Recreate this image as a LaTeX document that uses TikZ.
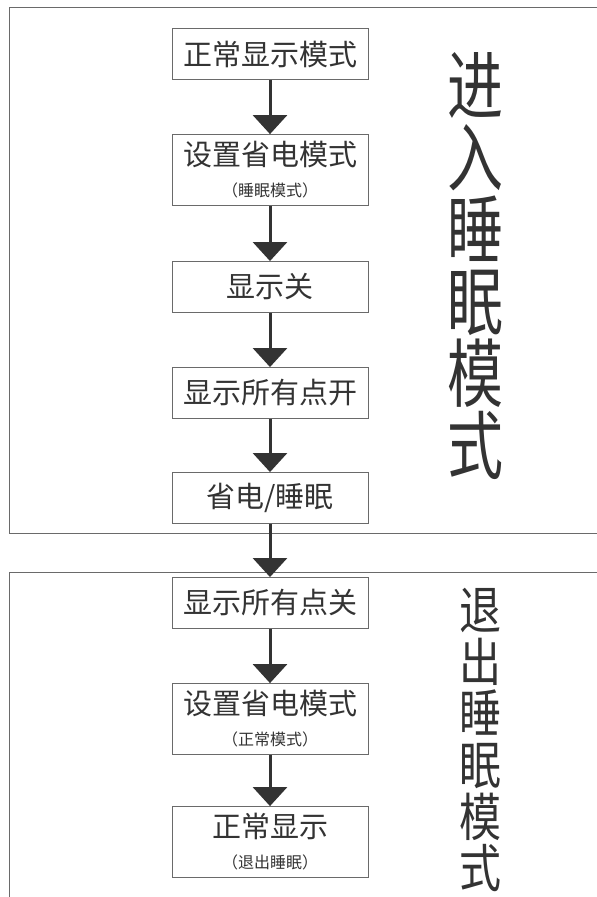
\documentclass[tikz,border=0pt]{standalone}
\usepackage{fontspec}
\setmainfont{Noto Sans CJK SC}
\usetikzlibrary{arrows.meta}
\definecolor{inkgray}{HTML}{333333}
\definecolor{framegray}{HTML}{6A6A6A}
\tikzset{
  stepbox/.style={draw=framegray, line width=0.9pt, minimum width=196pt, minimum height=51pt,
    inner xsep=0pt, inner ysep=7pt, align=center, text=inkgray, font=\fontsize{29}{31}\selectfont},
  flow/.style={draw=inkgray, line width=3pt, -{Triangle[width=34pt,length=19pt]}},
  sidetext/.style={text=inkgray, align=center, inner sep=0pt}
}
\newcommand{\subnote}[1]{{\fontsize{16}{18}\selectfont （#1）}}
\begin{document}
\begin{tikzpicture}[x=1pt,y=-1pt]
  \useasboundingbox (0,0) rectangle (597,897);
  \clip (0,0) rectangle (597,897);
  % Frames
  \draw[framegray, line width=0.9pt] (9,7) rectangle (620,533);
  \draw[framegray, line width=0.9pt] (9,905) -- (9,572) -- (620,572);
  % Entering sleep mode
  \foreach \m/\t/\y in {1/正常显示模式/54, 2/{设置省电模式\\\subnote{睡眠模式}}/170, 3/显示关/287, 4/显示所有点开/393, 5/{省电/睡眠}/498}
    \node [stepbox] (enter-\m) at (270,\y) {\t};
  % Leaving sleep mode
  \foreach \m/\t/\y in {1/显示所有点关/603, 2/{设置省电模式\\\subnote{正常模式}}/719, 3/{正常显示\\\subnote{退出睡眠}}/842}
    \node [stepbox] (exit-\m) at (270,\y) {\t};
  % Side labels
  \node [sidetext, font=\fontsize{56}{54}\selectfont, yscale=1.33] (enter-label) at (475,266) {进\\入\\睡\\眠\\模\\式};
  \node [sidetext, font=\fontsize{42}{42}\selectfont, yscale=1.23] (exit-label) at (480,740) {退\\出\\睡\\眠\\模\\式};
  % Connect the steps
  \foreach \i/\j in {1/2,2/3,3/4,4/5} \draw[flow] (enter-\i) -- (enter-\j);
  \draw[flow] (enter-5) -- (exit-1);
  \foreach \i/\j in {1/2,2/3} \draw[flow] (exit-\i) -- (exit-\j);
\end{tikzpicture}
\end{document}
